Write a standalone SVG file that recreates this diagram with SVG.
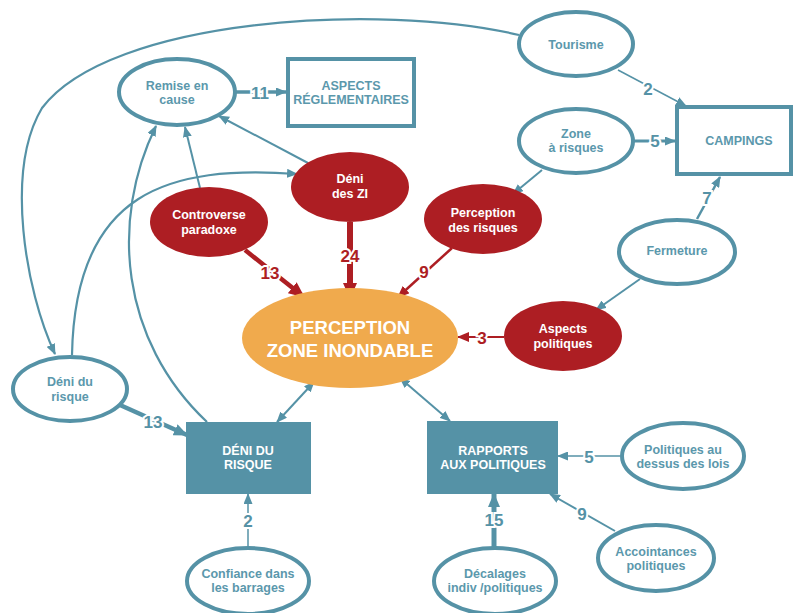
<svg xmlns="http://www.w3.org/2000/svg" width="797" height="613" viewBox="0 0 797 613">
<defs>
<style>
text{font-family:"Liberation Sans",Arial,sans-serif;font-weight:bold;text-anchor:middle}
.tn{fill:#5B98AC;font-size:12.5px}
.wn{fill:#fff;font-size:12.5px}
.el{fill:#fff;stroke:#5592A6;stroke-width:4}
.er{fill:#AD1E23}
.tc{fill:none;stroke:#5592A6}
.rc{fill:none;stroke:#AD1E23}
.lt{fill:#5592A6;font-size:17px;stroke:#fff;stroke-width:4;paint-order:stroke}
.lr{fill:#AD1E23;font-size:17px;stroke:#fff;stroke-width:4;paint-order:stroke}
</style>
<marker id="at" markerUnits="userSpaceOnUse" markerWidth="11" markerHeight="9" refX="10" refY="4.5" orient="auto-start-reverse"><path d="M0,0 L11,4.5 L0,9 z" fill="#5592A6"/></marker>
<marker id="atb" markerUnits="userSpaceOnUse" markerWidth="14" markerHeight="12" refX="13" refY="6" orient="auto"><path d="M0,0 L14,6 L0,12 z" fill="#5592A6"/></marker>
<marker id="ar" markerUnits="userSpaceOnUse" markerWidth="12" markerHeight="10" refX="11" refY="5" orient="auto"><path d="M0,0 L12,5 L0,10 z" fill="#AD1E23"/></marker>
<marker id="arb" markerUnits="userSpaceOnUse" markerWidth="16" markerHeight="14" refX="15" refY="7" orient="auto"><path d="M0,0 L16,7 L0,14 z" fill="#AD1E23"/></marker>
</defs>
<rect width="797" height="613" fill="#fff"/>
<g id="connectors">
<path class="tc" stroke-width="2.2" d="M519,35 C380,2 110,18 42,108 C5,170 25,290 55,354" marker-end="url(#at)"/>
<path class="tc" stroke-width="2.2" d="M72,355 C75,190 170,165 297,174" marker-end="url(#at)"/>
<path class="tc" stroke-width="2.2" d="M207,422 C120,340 110,220 156,126" marker-end="url(#at)"/>
<path class="tc" stroke-width="2" d="M200,188 L185,127" marker-end="url(#at)"/>
<path class="tc" stroke-width="2" d="M308,163 L219,116" marker-end="url(#at)"/>
<path class="tc" stroke-width="3.5" d="M236,92 L286,92" marker-end="url(#at)"/>
<path class="tc" stroke-width="1.5" d="M618,70 L686,106" marker-end="url(#at)"/>
<path class="tc" stroke-width="3" d="M634,141 L675,141" marker-end="url(#at)"/>
<path class="tc" stroke-width="2" d="M542,170 L513,194" marker-end="url(#at)"/>
<path class="tc" stroke-width="2.5" d="M697,219 L720,177" marker-end="url(#at)"/>
<path class="tc" stroke-width="2" d="M640,279 L596,310" marker-end="url(#at)"/>
<path class="rc" stroke-width="4.5" d="M245,250 L304,297" marker-end="url(#arb)"/>
<path class="rc" stroke-width="6" d="M350,222 L350,298" marker-end="url(#arb)"/>
<path class="rc" stroke-width="2.5" d="M452,248 L398,297" marker-end="url(#ar)"/>
<path class="rc" stroke-width="2" stroke="#C86B6E" d="M504,337 L458,337" marker-end="url(#ar)"/>
<path class="tc" stroke-width="2" d="M277,422 L314,382" marker-start="url(#at)" marker-end="url(#at)"/>
<path class="tc" stroke-width="2" d="M450,421 L400,378" marker-start="url(#at)" marker-end="url(#at)"/>
<path class="tc" stroke-width="4.5" d="M120,405 L187,435" marker-end="url(#atb)"/>
<path class="tc" stroke-width="1.5" d="M248,547 L248,494" marker-end="url(#at)"/>
<path class="tc" stroke-width="5" d="M494,547 L494,494" marker-end="url(#atb)"/>
<path class="tc" stroke-width="2" d="M615,531 L550,494" marker-end="url(#at)"/>
<path class="tc" stroke-width="1.5" stroke="#8DBCCB" d="M620,456 L558,456" marker-end="url(#at)"/>
<text class="lt" x="260" y="99">11</text>
<text class="lt" x="648" y="95">2</text>
<text class="lt" x="655" y="147">5</text>
<text class="lt" x="707" y="204">7</text>
<text class="lr" x="270" y="279">13</text>
<text class="lr" x="350" y="262" font-size="19">24</text>
<text class="lr" x="424" y="278">9</text>
<text class="lr" x="482" y="344">3</text>
<text class="lt" x="153" y="428">13</text>
<text class="lt" x="248" y="527" font-size="16">2</text>
<text class="lt" x="494" y="526">15</text>
<text class="lt" x="582" y="520">9</text>
<text class="lt" x="589" y="463">5</text>
</g>
<g id="tourisme"><ellipse class="el" cx="576" cy="44" rx="57" ry="32"/><text class="tn" x="576" y="49">Tourisme</text></g>
<g id="remise"><ellipse class="el" cx="177" cy="92" rx="58" ry="33"/><text class="tn" x="177" y="90">Remise en</text><text class="tn" x="177" y="104">cause</text></g>
<g id="reglementaires"><rect x="288" y="59" width="126" height="67" fill="#fff" stroke="#5592A6" stroke-width="4"/><text class="tn" x="351" y="90">ASPECTS</text><text class="tn" x="351" y="104">RÉGLEMENTAIRES</text></g>
<g id="zone"><ellipse class="el" cx="576" cy="141" rx="57" ry="32"/><text class="tn" x="576" y="138">Zone</text><text class="tn" x="576" y="152">à risques</text></g>
<g id="campings"><rect x="677" y="107" width="114" height="67" fill="#fff" stroke="#5592A6" stroke-width="4"/><text class="tn" x="739" y="145">CAMPINGS</text></g>
<g id="fermeture"><ellipse class="el" cx="677" cy="252" rx="58" ry="32"/><text class="tn" x="677" y="255">Fermeture</text></g>
<g id="perception-risques"><ellipse class="er" cx="483" cy="219" rx="59" ry="35"/><text class="wn" x="483" y="217">Perception</text><text class="wn" x="483" y="232">des risques</text></g>
<g id="deni-zi"><ellipse class="er" cx="350" cy="187" rx="59" ry="35"/><text class="wn" x="350" y="183">Déni</text><text class="wn" x="350" y="198">des ZI</text></g>
<g id="controverse"><ellipse class="er" cx="209" cy="222" rx="59" ry="35"/><text class="wn" x="209" y="219">Controverse</text><text class="wn" x="209" y="234">paradoxe</text></g>
<g id="perception-zone"><ellipse cx="350" cy="338" rx="108" ry="50" fill="#F0AA4D"/><text x="350" y="334" fill="#fff" font-size="18.5">PERCEPTION</text><text x="350" y="357" fill="#fff" font-size="18.5">ZONE INONDABLE</text></g>
<g id="aspects-politiques"><ellipse class="er" cx="563" cy="336" rx="59" ry="35"/><text class="wn" x="563" y="333">Aspects</text><text class="wn" x="563" y="348">politiques</text></g>
<g id="deni-risque-e"><ellipse class="el" cx="70" cy="389" rx="57" ry="32"/><text class="tn" x="70" y="386">Déni du</text><text class="tn" x="70" y="401">risque</text></g>
<g id="deni-risque-r"><rect x="186" y="422" width="125" height="72" fill="#5592A6"/><text class="wn" x="248" y="455">DÉNI DU</text><text class="wn" x="248" y="469">RISQUE</text></g>
<g id="rapports"><rect x="427" y="421" width="131" height="73" fill="#5592A6"/><text class="wn" x="493" y="455">RAPPORTS</text><text class="wn" x="493" y="469">AUX POLITIQUES</text></g>
<g id="politiques-lois"><ellipse class="el" cx="683" cy="456" rx="61" ry="33"/><text class="tn" x="683" y="454">Politiques au</text><text class="tn" x="683" y="468">dessus des lois</text></g>
<g id="accointances"><ellipse class="el" cx="656" cy="558" rx="58" ry="33"/><text class="tn" x="656" y="556">Accointances</text><text class="tn" x="656" y="570">politiques</text></g>
<g id="decalages"><ellipse class="el" cx="495" cy="581" rx="61" ry="33"/><text class="tn" x="495" y="578">Décalages</text><text class="tn" x="495" y="592">indiv /politiques</text></g>
<g id="confiance"><ellipse class="el" cx="248" cy="581" rx="61" ry="33"/><text class="tn" x="248" y="578">Confiance dans</text><text class="tn" x="248" y="592">les barrages</text></g>
</svg>
